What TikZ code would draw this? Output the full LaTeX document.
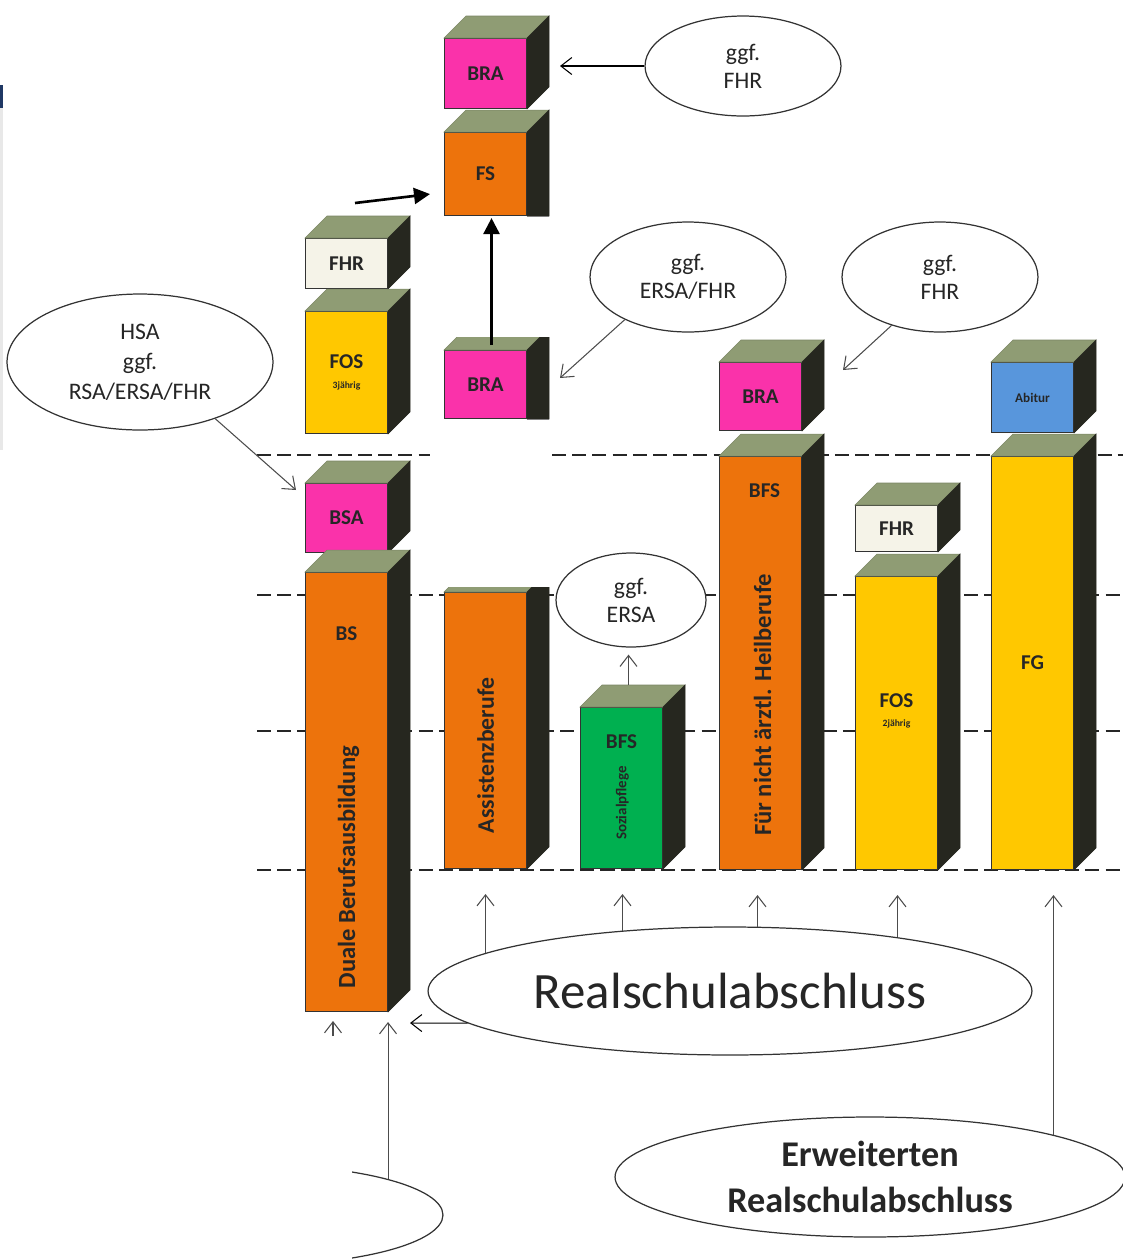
\documentclass[tikz,border=0pt]{standalone}
\usepackage{fontspec}
\setmainfont{Carlito}
\usetikzlibrary{arrows.meta,positioning,shapes.geometric}

\definecolor{cubetop}{RGB}{143,156,116}
\definecolor{cubeside}{RGB}{38,39,31}
\definecolor{bramag}{RGB}{250,50,170}
\definecolor{fsorange}{RGB}{237,115,12}
\definecolor{fosyellow}{RGB}{255,200,0}
\definecolor{fhrcream}{RGB}{245,243,232}
\definecolor{sozgreen}{RGB}{0,176,80}
\definecolor{abiblue}{RGB}{88,150,220}
\definecolor{stripgray}{RGB}{232,232,232}
\definecolor{stripnavy}{RGB}{31,56,100}

% top and side of a cube behind a front face node
\newcommand{\cubefaces}[1]{%
  \filldraw[topface] (#1.north west) -- ++(22,-22) -- ([shift={(22,-22)}]#1.north east) -- (#1.north east) -- cycle;
  \filldraw[sideface] (#1.north east) -- ++(22,-22) -- ([shift={(22,-22)}]#1.south east) -- (#1.south east) -- cycle;}
% same, side cut off flat at the bottom
\newcommand{\cubefacesflat}[1]{%
  \filldraw[topface] (#1.north west) -- ++(22,-22) -- ([shift={(22,-22)}]#1.north east) -- (#1.north east) -- cycle;
  \filldraw[sideface] (#1.north east) -- ++(22,-22) -- ([shift={(22,0)}]#1.south east) -- (#1.south east) -- cycle;
  \draw[black!50, line width=0.4pt] (#1.south east) -- ++(22,0);}

\begin{document}
\begin{tikzpicture}[x=0.02cm,y=-0.02cm,
  box/.style={draw=black!80, line width=0.6pt, minimum width=1.64cm, inner sep=0pt, align=center, font=\bfseries\fontsize{12}{13}\selectfont, text=black!85},
  topface/.style={fill=cubetop, draw=cubetop!85!black, line width=0.3pt},
  sideface/.style={fill=cubeside, draw=cubeside, line width=0.3pt},
  ell/.style={ellipse, draw=black!80, fill=white, line width=0.7pt, inner sep=0pt, align=center, font=\fontsize{13.5}{16}\selectfont, text=black!85},
  levelline/.style={black!85, line width=1.1pt, dash pattern=on 8pt off 3.5pt},
  arr/.style={-{Straight Barb[length=2.2mm,width=3.4mm]}, black!70, line width=0.6pt},
  bigarr/.style={-{Triangle[length=3.2mm,width=3.2mm]}, line width=1.5pt},
  lbl/.style={font=\bfseries\fontsize{12}{13}\selectfont, text=black!85},
  vlbl/.style={rotate=90, font=\bfseries\fontsize{14}{16}\selectfont, text=black!85}]
  \clip (0,0) rectangle (1123,1259);
  \fill[stripgray] (0,88) rectangle (3,450);
  \fill[stripnavy] (0,85) rectangle (3,108);

  % level lines
  \draw[levelline] (257,455) -- (430,455);
  \draw[levelline] (552,455) -- (1123,455);
  \draw[levelline] (257,595) -- (1123,595);
  \draw[levelline] (257,731) -- (1123,731);
  \draw[levelline] (257,870) -- (1123,870);

  % upper column
  \node[box, fill=bramag, minimum height=1.4cm, anchor=north west] (bratop) at (444,38) {BRA};
  \node[box, fill=fsorange, minimum height=1.66cm, below=0.46cm of bratop] (fs) {FS};
  \node[box, fill=bramag, minimum height=1.36cm, anchor=north west] (bramid) at (444,350) {BRA};
  \cubefaces{bratop}
  \cubefacesflat{fs}
  \begin{scope}
    \clip (430,337) rectangle (560,430);
    \cubefacesflat{bramid}
  \end{scope}

  \node[box, fill=fhrcream, minimum height=1.0cm, anchor=north west] (fhrl) at (305,238) {FHR};
  \node[box, fill=fosyellow, minimum height=2.44cm, below=0.44cm of fhrl] (fosl) {FOS\\[-2pt]{\fontsize{5.5}{6}\selectfont 3jährig}};
  \cubefaces{fhrl}
  \cubefaces{fosl}

  % columns
  \node[box, fill=bramag, minimum height=1.38cm, anchor=north west] (bsa) at (305,483) {BSA};
  \node[box, fill=fsorange, minimum height=8.78cm, below=0.38cm of bsa] (bs) {};
  \cubefaces{bsa}
  \cubefaces{bs}
  \node[lbl] at ([shift={(0,62)}]bs.north) {BS};
  \node[vlbl] at ([shift={(2,-145)}]bs.south) {Duale Berufsausbildung};

  \node[box, fill=fsorange, minimum height=5.52cm, anchor=north west] (assist) at (444,592) {};
  \begin{scope}
    \clip (430,587) rectangle (560,880);
    \cubefaces{assist}
  \end{scope}
  \node[vlbl, font=\bfseries\fontsize{13.5}{15}\selectfont] at ([shift={(0,25)}]assist.center) {Assistenzberufe};

  \node[box, fill=sozgreen, minimum height=3.22cm, anchor=north west] (soz) at (580,707) {};
  \cubefaces{soz}
  \node[lbl] at ([shift={(0,35)}]soz.north) {BFS};
  \node[vlbl, font=\bfseries\fontsize{8.5}{10}\selectfont] at ([shift={(1,96)}]soz.north) {Sozialpflege};

  \node[box, fill=bramag, minimum height=1.36cm, anchor=north west] (brar) at (719,362) {BRA};
  \node[box, fill=fsorange, minimum height=8.26cm, below=0.5cm of brar] (bfs) {};
  \cubefaces{brar}
  \cubefaces{bfs}
  \node[lbl] at ([shift={(4,35)}]bfs.north) {BFS};
  \node[vlbl] at ([shift={(2,249)}]bfs.north) {Für nicht ärztl. Heilberufe};

  \node[box, fill=fhrcream, minimum height=0.92cm, anchor=north west] (fhrr) at (855,505) {FHR};
  \node[box, fill=fosyellow, minimum height=5.86cm, below=0.48cm of fhrr] (fosr) {};
  \cubefaces{fhrr}
  \cubefaces{fosr}
  \node[box, draw=none, align=center] at ([shift={(0,-12)}]fosr.center) {FOS\\[-2pt]{\fontsize{5.5}{6}\selectfont 2jährig}};

  \node[box, fill=abiblue, minimum height=1.4cm, anchor=north west, font=\bfseries\fontsize{7.5}{8}\selectfont] (abi) at (991,362) {Abitur};
  \node[box, fill=fosyellow, minimum height=8.26cm, below=0.46cm of abi] (fg) {FG};
  \cubefaces{abi}
  \cubefaces{fg}

  % ellipses
  \node[ell, minimum width=3.92cm, minimum height=2.0cm] (ggftop) at (743,66) {ggf.\\FHR};
  \node[ell, minimum width=3.92cm, minimum height=2.2cm] (ggfersafhr) at (688,277) {ggf.\\ERSA/FHR};
  \node[ell, minimum width=3.92cm, minimum height=2.2cm] (ggffhr) at (940,277) {ggf.\\FHR};
  \node[ell, minimum width=5.32cm, minimum height=2.72cm, font=\fontsize{13.5}{17}\selectfont] (hsa) at (140,362) {HSA\\ggf.\\RSA/ERSA/FHR};
  \node[ell, minimum width=3.0cm, minimum height=1.88cm] (ggfersa) at (631,600) {ggf.\\ERSA};
  \node[ell, minimum width=12.08cm, minimum height=2.56cm, font=\fontsize{29}{32}\selectfont] (rsa) at (730,991) {Realschulabschluss};
  \node[ell, minimum width=10.2cm, minimum height=2.4cm, font=\bfseries\fontsize{20.6}{26}\selectfont] (era) at (870,1177) {Erweiterten\\Realschulabschluss};
  \begin{scope}
    \clip (352,1150) rectangle (470,1259);
    \node[ell, minimum width=7.44cm, minimum height=2.0cm] (hsbottom) at (257,1215) {};
  \end{scope}

  % connectors
  \coordinate (tipbra) at (560,66);
  \coordinate (tipbramid) at (560,378);
  \coordinate (tipbrar) at (843,370);
  \coordinate (tipbsa) at (296,490);
  \coordinate (tipbs) at (410,1023);
  \coordinate (stubtail) at (333,1036);
  \coordinate (fhrtail) at (355,203);
  \coordinate (soztop) at ([shift={(7,-22)}]soz.north);
  \coordinate (ersatip) at ([shift={(0,7)}]ggfersa.south);
  \coordinate (assistfoot) at ([shift={(0,25)}]assist.south);
  \coordinate (sozfoot) at ([shift={(1,25)}]soz.south);
  \coordinate (bfsfoot) at ([shift={(-3,25)}]bfs.south);
  \coordinate (fosfoot) at ([shift={(1,25)}]fosr.south);
  \coordinate (fgfoot) at ([shift={(21,25)}]fg.south);
  \coordinate (bsfoot) at ([shift={(0,10)}]bs.south east);

  \draw[arr, black] (ggftop.west) -- (tipbra);
  \draw[arr] (ggfersafhr.-146) -- (tipbramid);
  \draw[arr] (ggffhr.225) -- (tipbrar);
  \draw[arr] (hsa.-37) -- (tipbsa);
  \draw[arr] (soztop) -- (soztop |- ersatip);
  \draw[arr] (rsa.171 -| assistfoot) -- (assistfoot);
  \draw[arr] (rsa.151 -| sozfoot) -- (sozfoot);
  \draw[arr] (rsa.65 -| bfsfoot) -- (bfsfoot);
  \draw[arr] (rsa.18 -| fosfoot) -- (fosfoot);
  \draw[arr, black] (rsa.187) -- (tipbs);
  \draw[arr] (stubtail) -- ++(0,-15);
  \draw[arr] (era.13 -| fgfoot) -- (fgfoot);
  \draw[arr] (hsbottom.15 -| bsfoot) -- (bsfoot);
  \draw[bigarr] ([shift={(6,-5)}]bramid.north) -- ([shift={(6,2)}]fs.south);
  \draw[bigarr] (fhrtail) -- ([shift={(-14,20)}]fs.west);
\end{tikzpicture}
\end{document}
